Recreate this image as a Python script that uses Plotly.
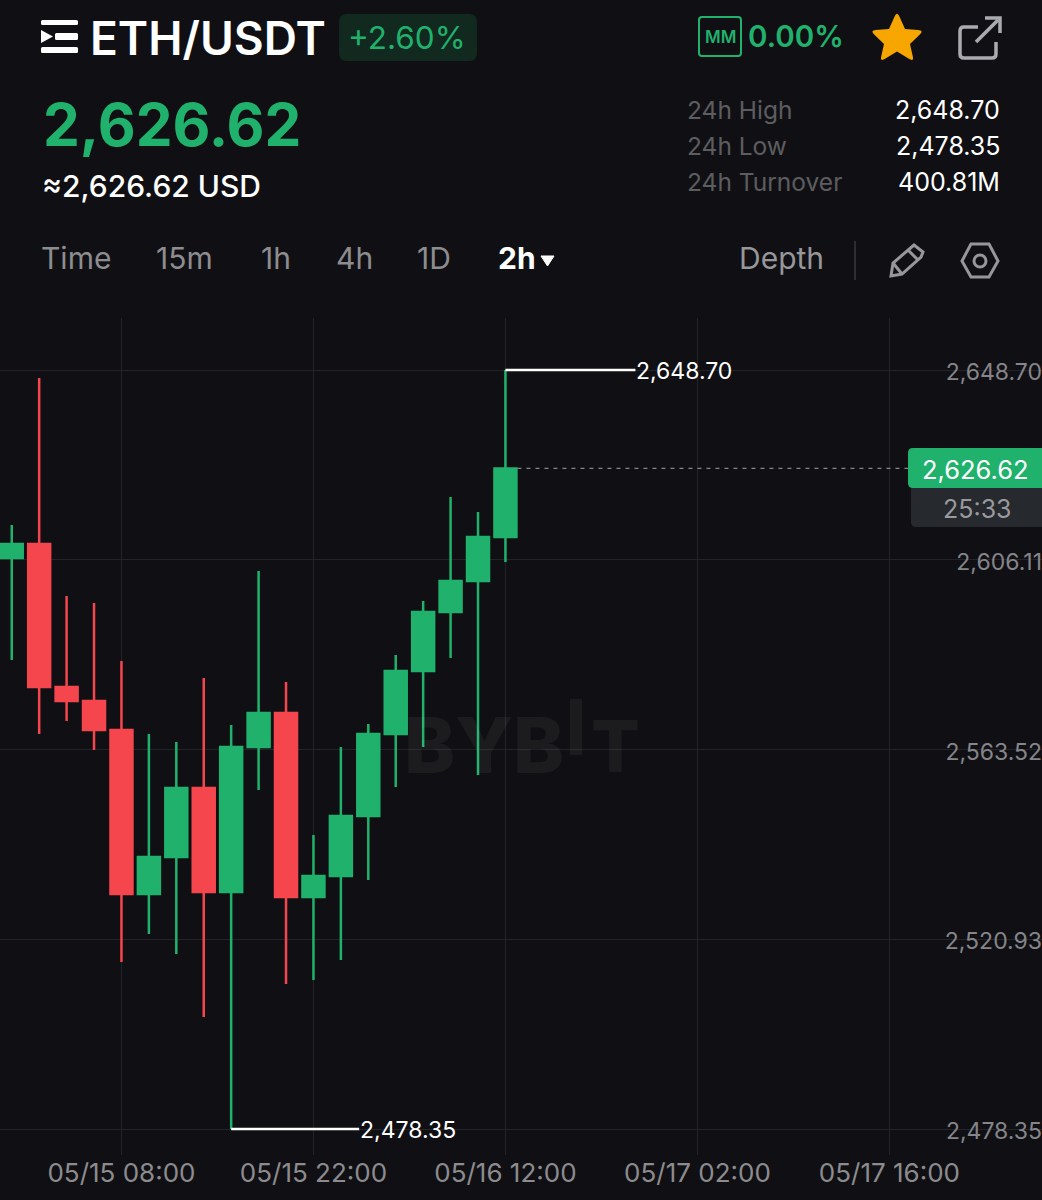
import plotly.graph_objects as go

W, H = 1042, 1200
BG = '#101014'
GREEN = '#20B26C'
RED = '#F5464E'
GRID = '#232429'
FONT = 'Inter'

# 2h candles
dates = ['2025-05-15 00:00', '2025-05-15 02:00', '2025-05-15 04:00', '2025-05-15 06:00',
         '2025-05-15 08:00', '2025-05-15 10:00', '2025-05-15 12:00', '2025-05-15 14:00',
         '2025-05-15 16:00', '2025-05-15 18:00', '2025-05-15 20:00', '2025-05-15 22:00',
         '2025-05-16 00:00', '2025-05-16 02:00', '2025-05-16 04:00', '2025-05-16 06:00',
         '2025-05-16 08:00', '2025-05-16 10:00', '2025-05-16 12:00']
opens = [2606.51, 2609.65, 2577.55, 2574.41, 2567.90, 2531.09, 2539.40, 2554.88, 2531.54, 2564.09,
         2571.72, 2530.42, 2535.13, 2548.60, 2567.00, 2581.14, 2594.39, 2601.34, 2611.22]
highs = [2613.91, 2646.90, 2597.98, 2596.41, 2583.39, 2567.00, 2565.21, 2579.57, 2569.02, 2603.59,
         2578.67, 2544.34, 2564.09, 2569.25, 2584.73, 2596.85, 2620.20, 2616.83, 2648.70]
lows = [2583.61, 2567.00, 2569.92, 2563.41, 2515.83, 2522.12, 2517.63, 2503.49, 2478.35, 2554.44,
        2510.89, 2511.79, 2516.28, 2534.24, 2555.11, 2564.09, 2584.06, 2557.80, 2605.61]
closes = [2609.65, 2577.55, 2574.41, 2567.90, 2531.09, 2539.40, 2554.88, 2531.54, 2564.09, 2571.72,
          2530.42, 2535.13, 2548.60, 2567.00, 2581.14, 2594.39, 2601.34, 2611.22, 2626.62]

price_ticks = [2648.70, 2606.11, 2563.52, 2520.93, 2478.35]
price_labels = ['2,648.70', '2,606.11', '2,563.52', '2,520.93', '2,478.35']
high_date, high_price = '2025-05-16 12:00', 2648.70
low_date, low_price = '2025-05-15 16:00', 2478.35
last_date, last_price = '2025-05-16 12:00', 2626.62

tabs = [('Time', 76), ('15m', 184.5), ('1h', 276), ('4h', 354), ('1D', 434)]
stats = [('24h High', '2,648.70', 110), ('24h Low', '2,478.35', 146), ('24h Turnover', '400.81M', 182)]


# header is laid out in screen pixels, these turn them into paper coordinates
def px(x):
    return x / W


def py(y):
    return 1 - y / H


def pt(x, y):
    return f'{px(x):.5f},{py(y):.5f}'


def path(points, close=True):
    d = 'M' + ' L'.join(pt(x, y) for x, y in points)
    return d + (' Z' if close else '')


def round_rect(x0, y0, x1, y1, r):
    # rounded rectangle drawn with quadratic corners
    return (f'M{pt(x0 + r, y0)} L{pt(x1 - r, y0)} Q{pt(x1, y0)} {pt(x1, y0 + r)} L{pt(x1, y1 - r)} '
            f'Q{pt(x1, y1)} {pt(x1 - r, y1)} L{pt(x0 + r, y1)} Q{pt(x0, y1)} {pt(x0, y1 - r)} '
            f'L{pt(x0, y0 + r)} Q{pt(x0, y0)} {pt(x0 + r, y0)} Z')


def star_path():
    # tips are rounded off with a Q towards each outer point
    outer = [(897, 11), (924, 30.5), (914, 62), (880, 62), (870, 30.5)]
    inner = [(905, 29), (910, 44), (897, 51.5), (884, 44), (889, 29)]
    d = ''
    for i in range(5):
        ox, oy = outer[i]
        prev_x, prev_y = inner[i - 1]
        next_x, next_y = inner[i]
        a = (ox + (prev_x - ox) * 0.3, oy + (prev_y - oy) * 0.3)
        b = (ox + (next_x - ox) * 0.3, oy + (next_y - oy) * 0.3)
        d += ('M' if i == 0 else 'L') + pt(*a) + ' Q' + pt(ox, oy) + ' ' + pt(*b) + ' L' + pt(next_x, next_y) + ' '
    return d + 'Z'


def shape(d, fill=None, color=None, width=0, layer='above'):
    return dict(type='path', path=d, xref='paper', yref='paper', layer=layer,
                fillcolor=fill if fill else 'rgba(0,0,0,0)',
                line=dict(color=color if color else 'rgba(0,0,0,0)', width=width))


def text(t, x, y, size, color, anchor='left', weight=400):
    return dict(text=t, x=px(x), y=py(y), xref='paper', yref='paper', xanchor=anchor, yanchor='middle',
                showarrow=False, borderpad=0, font=dict(family=FONT, size=size, color=color, weight=weight))


fig = go.Figure(go.Candlestick(
    x=dates, open=opens, high=highs, low=lows, close=closes,
    increasing=dict(line=dict(color=GREEN, width=2.5), fillcolor=GREEN),
    decreasing=dict(line=dict(color=RED, width=2.5), fillcolor=RED),
    whiskerwidth=0,
    showlegend=False,
))

shapes = [
    # hide grid ends behind the price labels
    dict(type='rect', xref='paper', yref='paper', x0=px(947), x1=1, y0=py(1155), y1=py(318),
         fillcolor=BG, line=dict(width=0), layer='between'),
    # menu icon
    shape(round_rect(41, 20, 78, 25, 1.5), fill='white'),
    shape(round_rect(55, 33, 78, 40, 1.5), fill='white'),
    shape(round_rect(41, 47, 78, 53, 1.5), fill='white'),
    shape(path([(41, 30), (53, 36.5), (41, 43)]), fill='white'),
    # change badge
    shape(round_rect(339, 14, 477, 61, 8), fill='#12291F'),
    # MM box
    shape(round_rect(699, 17, 741, 56, 3), color=GREEN, width=2),
    # star
    shape(star_path(), fill='#F7A600'),
    # share icon
    shape(f'M{pt(978, 27)} L{pt(964, 27)} Q{pt(960, 27)} {pt(960, 31)} L{pt(960, 54)} Q{pt(960, 58)} {pt(964, 58)} '
          f'L{pt(992, 58)} Q{pt(996, 58)} {pt(996, 54)} L{pt(996, 42)}', color='#A9ABB0', width=3.5),
    shape(path([(976, 42), (998, 20)], close=False), color='#A9ABB0', width=3.5),
    shape(path([(985, 18), (1000, 18), (1000, 33)], close=False), color='#A9ABB0', width=3.5),
    # dropdown arrow
    shape(path([(541, 256), (554, 256), (547.5, 266)]), fill='white', color='white', width=1),
    # divider
    shape(path([(855, 241), (855, 280)], close=False), color='#38393D', width=1.5),
    # pencil
    shape(path([(891, 276), (893, 263), (914, 245), (923, 252), (921, 257), (902, 274)]),
          color='#96979B', width=3),
    shape(path([(893, 263), (902, 274)], close=False), color='#96979B', width=3),
    shape(path([(908, 250), (918, 260)], close=False), color='#96979B', width=3),
    # settings hexagon
    shape(path([(971, 244), (989, 244), (998, 261), (989, 277), (971, 277), (962, 261)]),
          color='#96979B', width=3),
    dict(type='circle', xref='paper', yref='paper', layer='above', x0=px(974), x1=px(986), y0=py(267), y1=py(255),
         line=dict(color='#96979B', width=3), fillcolor='rgba(0,0,0,0)'),
    # watermark raised I
    dict(type='rect', xref='paper', yref='paper', layer='above', x0=px(570), x1=px(582), y0=py(755), y1=py(699),
         fillcolor='rgba(255,255,255,0.05)', line=dict(width=0)),
    # high / low markers
    dict(type='line', xref='x', yref='y', xsizemode='pixel', xanchor=high_date, x0=0, x1=130,
         y0=high_price, y1=high_price, line=dict(color='white', width=2.5), layer='above'),
    dict(type='line', xref='x', yref='y', xsizemode='pixel', xanchor=low_date, x0=0, x1=128,
         y0=low_price, y1=low_price, line=dict(color='white', width=2.5), layer='above'),
    # current price line
    dict(type='line', xref='x', yref='y', xsizemode='pixel', xanchor=last_date, x0=12, x1=403,
         y0=last_price, y1=last_price, line=dict(color='#85868A', width=1.2, dash='4px,5px'), layer='above'),
    # price tags
    shape(round_rect(911, 480, 1052, 527, 5), fill='#26292E'),
    shape(round_rect(908, 448, 1052, 488, 5), fill=GREEN),
]

annotations = [
    text('ETH/USDT', 89, 38, 46, 'white', weight=600),
    text('+2.60%', 347, 38, 31.5, GREEN),
    text('2,626.62', 42, 125, 58.5, GREEN, weight=700),
    text('≈2,626.62 USD', 41, 186, 30, 'white', weight=500),
    text('2h', 497, 258, 30, 'white', weight=700),
    text('Depth', 738, 258, 30, '#97979A'),
    text('MM', 720, 37, 17, GREEN, anchor='center', weight=600),
    text('0.00%', 747, 36, 29.5, GREEN, weight=600),
    # watermark
    text('BYB', 403, 745, 77, 'rgba(255,255,255,0.05)', weight=800),
    text('T', 590, 745, 72, 'rgba(255,255,255,0.05)', weight=800),
    # last price tag
    text('2,626.62', 975, 470, 25.5, 'white', anchor='center'),
    text('25:33', 977, 509, 25, '#9A9A9D', anchor='center'),
    dict(text='2,648.70', x=high_date, y=high_price, xref='x', yref='y', xanchor='left', yanchor='middle',
         xshift=129, yshift=-1, showarrow=False, font=dict(family=FONT, size=23, color='white')),
    dict(text='2,478.35', x=low_date, y=low_price, xref='x', yref='y', xanchor='left', yanchor='middle',
         xshift=127, yshift=-1, showarrow=False, font=dict(family=FONT, size=23, color='white')),
]
for label, x in tabs:
    annotations.append(text(label, x, 258, 30, '#8D8D90', anchor='center'))
for label, value, y in stats:
    annotations.append(text(label, 686, y, 24.5, '#5D5D60'))
    annotations.append(text(value, 1001, y, 25, 'white', anchor='right'))

fig.update_layout(
    width=W,
    height=H,
    autosize=False,
    margin=dict(l=0, r=0, t=0, b=0),
    paper_bgcolor=BG,
    plot_bgcolor=BG,
    boxgap=0.1,
    boxgroupgap=0.11,
    shapes=shapes,
    annotations=annotations,
    xaxis=dict(
        type='date',
        range=['2025-05-14 23:08:36', '2025-05-18 03:07:36'],
        rangeslider=dict(visible=False),
        domain=[0, 1],
        tick0='2025-05-15 08:00',
        dtick=14 * 3600 * 1000,
        tickformat='%m/%d %H:%M',
        tickfont=dict(family=FONT, size=26, color='#8C8C8F'),
        showgrid=True,
        gridcolor=GRID,
        gridwidth=1,
        zeroline=False,
        showline=False,
        ticks='',
    ),
    yaxis=dict(
        side='right',
        range=[2472.52, 2660.37],
        domain=[py(1155), py(318)],
        tickvals=price_ticks,
        ticktext=price_labels,
        ticklabelposition='inside',
        ticklabelstandoff=-3,
        ticklabelshift=2,
        tickfont=dict(family=FONT, size=23, color='#85858A'),
        showgrid=True,
        gridcolor=GRID,
        gridwidth=1,
        zeroline=False,
        showline=False,
        ticks='',
    ),
)

fig.write_html('out.html', config=dict(displayModeBar=False),
               post_script="document.body.style.margin='0';document.body.style.background='" + BG + "';")
